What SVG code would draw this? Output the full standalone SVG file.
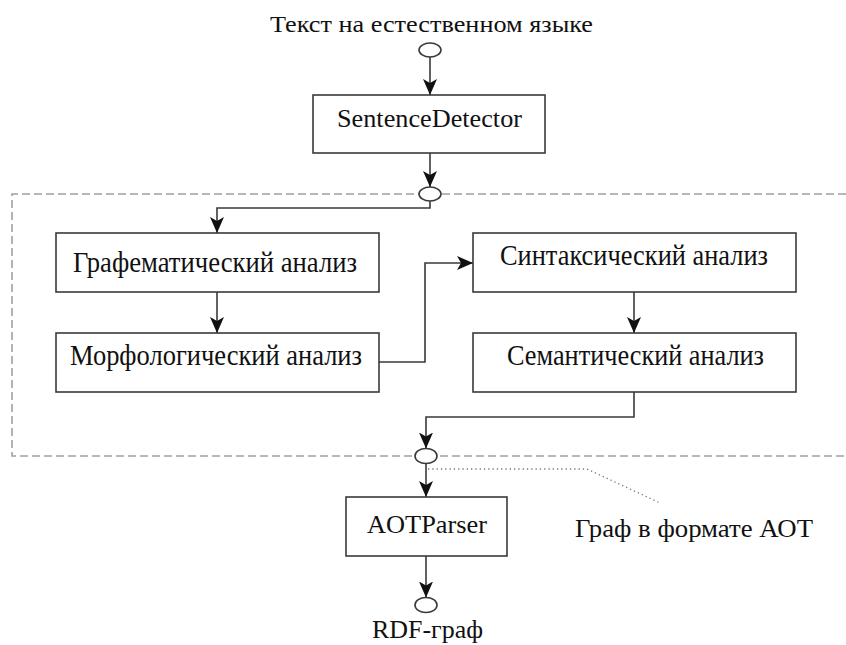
<svg xmlns="http://www.w3.org/2000/svg" width="846" height="645" viewBox="0 0 846 645">
<style>
.box{fill:#fff;stroke:#3a3a3a;stroke-width:1.6}
.lbl{font-family:"Liberation Serif","Times New Roman",serif;fill:#111}
.port{fill:#fff;stroke:#3a3a3a;stroke-width:1.6}
.conn{fill:none;stroke:#3a3a3a;stroke-width:1.6}
.frame{fill:none;stroke:#a0a0a0;stroke-width:1.6;stroke-dasharray:8 4}
.dot{fill:none;stroke:#777;stroke-width:1.3;stroke-dasharray:1.3 3}
</style>
<defs>
<marker id="arr" viewBox="0 0 16 14" refX="16" refY="7" markerWidth="16" markerHeight="14" markerUnits="userSpaceOnUse" orient="auto">
<path d="M0,0 L16,7 L0,14 L4,7 z" fill="#111"/>
</marker>
</defs>
<g id="frame">
<path class="frame" d="M846,194 H12 V456 H846"/>
</g>
<g id="connectors">
<path class="conn" d="M430,57 V95" marker-end="url(#arr)"/>
<path class="conn" d="M430,153 V187" marker-end="url(#arr)"/>
<path class="conn" d="M430,201 V208 H217 V233" marker-end="url(#arr)"/>
<path class="conn" d="M217,292 V333" marker-end="url(#arr)"/>
<path class="conn" d="M379,362 H425 V263 H473" marker-end="url(#arr)"/>
<path class="conn" d="M634,292 V333" marker-end="url(#arr)"/>
<path class="conn" d="M634,392 V417 H426 V448.5" marker-end="url(#arr)"/>
<path class="conn" d="M426,463.5 V497" marker-end="url(#arr)"/>
<path class="conn" d="M426,556 V597.5" marker-end="url(#arr)"/>
<path class="dot" d="M428,469 H587 L660,503"/>
</g>
<g id="input">
<text class="lbl" x="270" y="32" font-size="24" textLength="323" lengthAdjust="spacingAndGlyphs">Текст на естественном языке</text>
<ellipse class="port" cx="430" cy="50" rx="11" ry="7"/>
</g>
<g id="sentence-detector">
<rect class="box" x="313" y="95" width="232" height="58"/>
<text class="lbl" x="337" y="127" font-size="26" textLength="185" lengthAdjust="spacingAndGlyphs">SentenceDetector</text>
</g>
<g id="port-split">
<ellipse class="port" cx="430" cy="194" rx="11" ry="7"/>
</g>
<g id="graphematic">
<rect class="box" x="56" y="233" width="323" height="59"/>
<text class="lbl" x="73" y="272" font-size="30" textLength="284" lengthAdjust="spacingAndGlyphs">Графематический анализ</text>
</g>
<g id="morphological">
<rect class="box" x="56" y="333" width="323" height="59"/>
<text class="lbl" x="70" y="365" font-size="30" textLength="292" lengthAdjust="spacingAndGlyphs">Морфологический анализ</text>
</g>
<g id="syntactic">
<rect class="box" x="473" y="233" width="323" height="59"/>
<text class="lbl" x="500" y="265" font-size="30" textLength="268" lengthAdjust="spacingAndGlyphs">Синтаксический анализ</text>
</g>
<g id="semantic">
<rect class="box" x="473" y="333" width="323" height="59"/>
<text class="lbl" x="507" y="365" font-size="30" textLength="257" lengthAdjust="spacingAndGlyphs">Семантический анализ</text>
</g>
<g id="port-aot">
<ellipse class="port" cx="426" cy="456" rx="11" ry="7.5"/>
</g>
<g id="aot-label">
<text class="lbl" x="575" y="537" font-size="26" textLength="238" lengthAdjust="spacingAndGlyphs">Граф в формате АОТ</text>
</g>
<g id="aotparser">
<rect class="box" x="346" y="497" width="161" height="59"/>
<text class="lbl" x="367" y="533" font-size="26" textLength="120" lengthAdjust="spacingAndGlyphs">AOTParser</text>
</g>
<g id="output">
<ellipse class="port" cx="426" cy="605" rx="11" ry="7.5"/>
<text class="lbl" x="372" y="638" font-size="25" textLength="111" lengthAdjust="spacingAndGlyphs">RDF-граф</text>
</g>
</svg>
